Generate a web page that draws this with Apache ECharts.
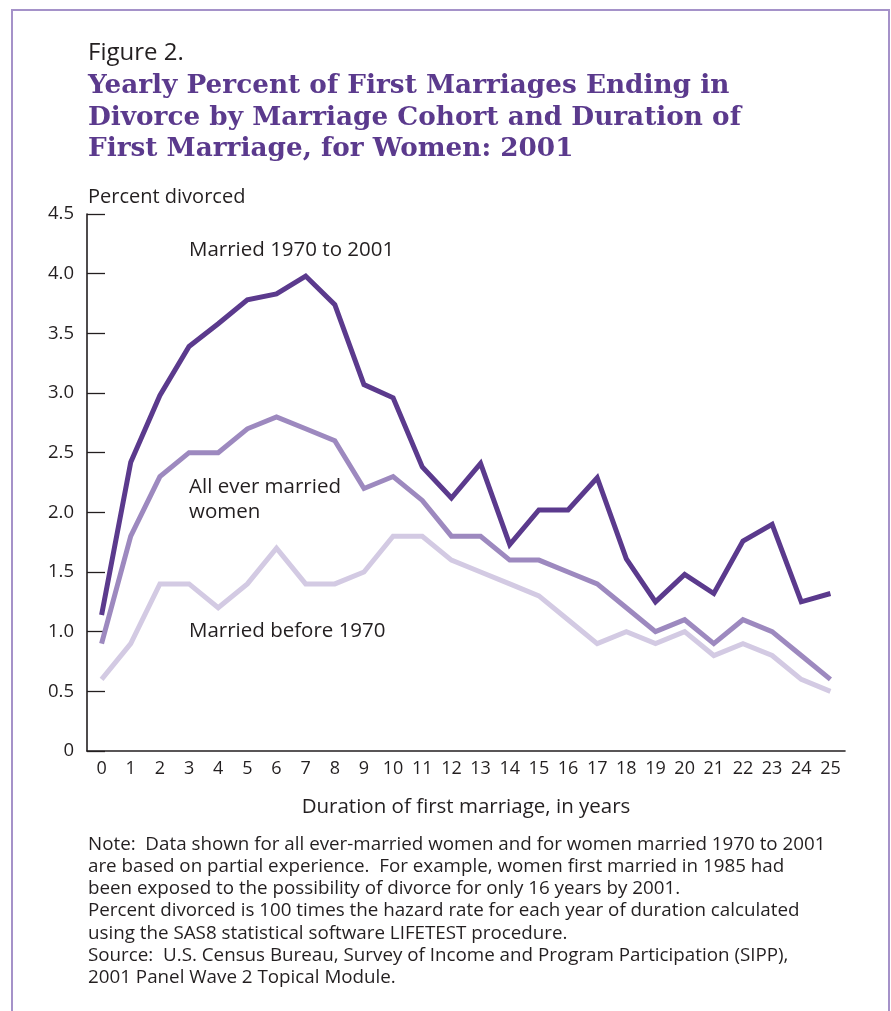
<!DOCTYPE html>
<html>
<head>
<meta charset="utf-8">
<script src="https://cdn.jsdelivr.net/npm/echarts@6/dist/echarts.min.js"></script>
<style>
  html, body { margin: 0; padding: 0; background: #fff; }
  #chart { width: 891px; height: 1011px; }
</style>
</head>
<body>
<div id="chart"></div>
<script>
// duration of first marriage, in years
const years = ['0','1','2','3','4','5','6','7','8','9','10','11','12','13','14','15','16','17','18','19','20','21','22','23','24','25'];

// percent divorced
const married1970to2001 = [1.14, 2.42, 2.98, 3.39, 3.58, 3.78, 3.83, 3.98, 3.74, 3.07, 2.96, 2.38, 2.12, 2.41, 1.73, 2.02, 2.02, 2.29, 1.61, 1.25, 1.48, 1.32, 1.76, 1.90, 1.25, 1.32];
const allEverMarried = [0.9, 1.8, 2.3, 2.5, 2.5, 2.7, 2.8, 2.7, 2.6, 2.2, 2.3, 2.1, 1.8, 1.8, 1.6, 1.6, 1.5, 1.4, 1.2, 1.0, 1.1, 0.9, 1.1, 1.0, 0.8, 0.6];
const marriedBefore1970 = [0.6, 0.9, 1.4, 1.4, 1.2, 1.4, 1.7, 1.4, 1.4, 1.5, 1.8, 1.8, 1.6, 1.5, 1.4, 1.3, 1.1, 0.9, 1.0, 0.9, 1.0, 0.8, 0.9, 0.8, 0.6, 0.5];

const titleLines = [
    'Yearly Percent of First Marriages Ending in',
    'Divorce by Marriage Cohort and Duration of',
    'First Marriage, for Women: 2001'
];
const noteLines = [
    'Note:  Data shown for all ever-married women and for women married 1970 to 2001',
    'are based on partial experience.  For example, women first married in 1985 had',
    'been exposed to the possibility of divorce for only 16 years by 2001.',
    'Percent divorced is 100 times the hazard rate for each year of duration calculated',
    'using the SAS8 statistical software LIFETEST procedure.',
    'Source:  U.S. Census Bureau, Survey of Income and Program Participation (SIPP),',
    '2001 Panel Wave 2 Topical Module.'
];

const ink = '#231f20';
const purple = '#5b3a8d';
const sans = '"Open Sans", "Noto Sans", sans-serif';
const serif = '"DejaVu Serif", serif';

const chart = echarts.init(document.getElementById('chart'));

function txt(x, y, text, size, extra) {
    return {
        type: 'text',
        x: x,
        y: y,
        style: Object.assign({
            text: text,
            fill: ink,
            fontSize: size,
            fontFamily: sans,
            textVerticalAlign: 'middle'
        }, extra || {})
    };
}

const titleStyle = { fill: purple, fontWeight: 'bold', fontFamily: serif };

const option = {
    animation: false,
    backgroundColor: '#fff',
    grid: {
        left: 87,
        right: 46,
        top: 214,
        bottom: 260
    },
    xAxis: {
        type: 'category',
        data: years,
        boundaryGap: true,
        name: 'Duration of first marriage, in years',
        nameLocation: 'middle',
        nameGap: 46,
        nameTextStyle: { color: ink, fontSize: 20.5, fontFamily: sans },
        axisLine: { lineStyle: { color: ink, width: 1.6 } },
        axisTick: { inside: true, alignWithLabel: true, length: 14, lineStyle: { color: ink, width: 1.3 } },
        axisLabel: { color: ink, fontSize: 18, fontFamily: sans, margin: 9, interval: 0 },
        splitLine: { show: false }
    },
    yAxis: {
        type: 'value',
        min: 0,
        max: 4.5,
        interval: 0.5,
        axisLine: { show: true, lineStyle: { color: ink, width: 1.6 } },
        axisTick: { show: true, inside: true, length: 18, lineStyle: { color: ink, width: 1.3 } },
        axisLabel: {
            color: ink,
            fontSize: 18.5,
            fontFamily: sans,
            margin: 13,
            formatter: v => (v === 0 ? '0' : v.toFixed(1))
        },
        splitLine: { show: false }
    },
    series: [
        {
            name: 'Married before 1970',
            type: 'line',
            data: marriedBefore1970,
            showSymbol: false,
            lineStyle: { color: '#d3cae3', width: 5, join: 'miter', cap: 'butt' }
        },
        {
            name: 'All ever married women',
            type: 'line',
            data: allEverMarried,
            showSymbol: false,
            lineStyle: { color: '#9d89bf', width: 5, join: 'miter', cap: 'butt' }
        },
        {
            name: 'Married 1970 to 2001',
            type: 'line',
            data: married1970to2001,
            showSymbol: false,
            lineStyle: { color: purple, width: 5, join: 'miter', cap: 'butt' }
        }
    ],
    graphic: [
        {
            type: 'rect',
            shape: { x: 12, y: 10, width: 877, height: 1030 },
            style: { fill: 'none', stroke: '#a592c9', lineWidth: 2 }
        },
        txt(88, 53, 'Figure 2.', 24),
        txt(88, 86, titleLines[0], 26.3, titleStyle),
        txt(88, 118, titleLines[1], 26.3, titleStyle),
        txt(88, 149, titleLines[2], 26.3, titleStyle),
        txt(88, 197, 'Percent divorced', 20),
        txt(189, 250, 'Married 1970 to 2001', 20.5),
        txt(189, 487, 'All ever married', 20.5),
        txt(189, 512, 'women', 20.5),
        txt(189, 631, 'Married before 1970', 20.5),
        {
            type: 'text',
            x: 88,
            y: 833,
            style: {
                text: noteLines.join('\n'),
                fill: ink,
                fontSize: 18.8,
                fontFamily: sans,
                lineHeight: 22.3,
                textVerticalAlign: 'top'
            }
        }
    ]
};

chart.setOption(option);
</script>
</body>
</html>
